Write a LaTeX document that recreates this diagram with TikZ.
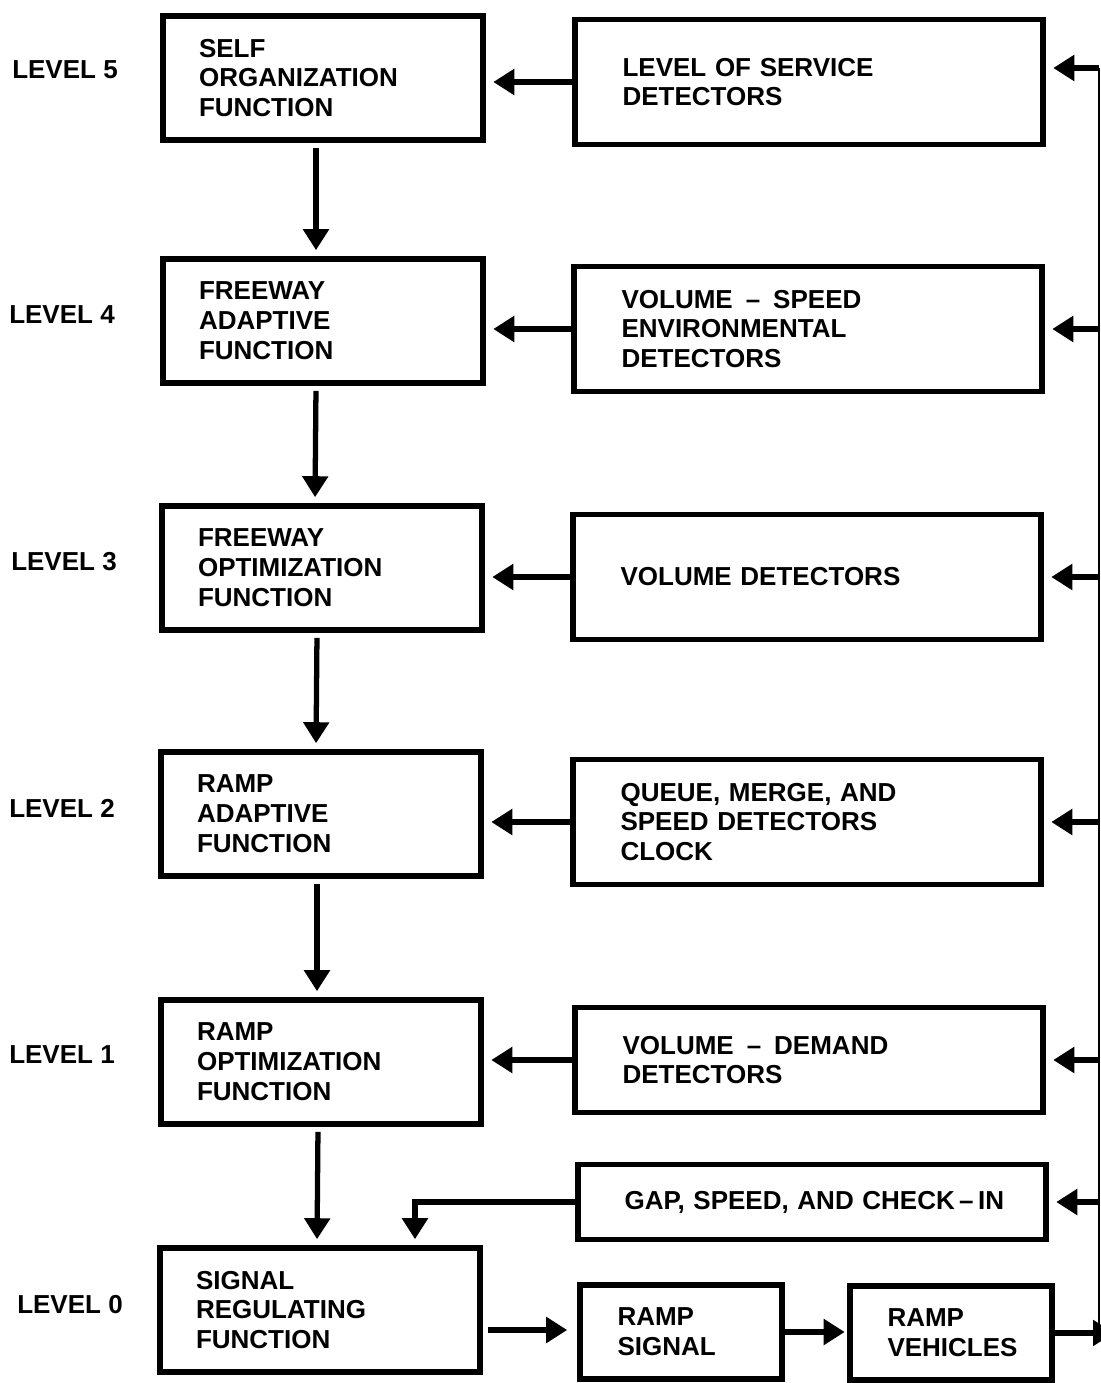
\documentclass[tikz,border=0pt]{standalone}
\usepackage{fontspec}
\setmainfont{Liberation Sans}
\usetikzlibrary{arrows.meta}

\begin{document}
\begin{tikzpicture}[x=0.02cm,y=-0.02cm,>={Triangle[length=0.42cm,width=0.5cm]},
  txt/.style={font=\bfseries\fontsize{14.8}{17}\selectfont},
  fnbox/.style={txt,draw,line width=3.2pt,align=left,minimum width=6.4cm,minimum height=2.48cm,inner xsep=0.72cm,text width=4.96cm},
  detbox/.style={txt,draw,line width=3.2pt,align=left,minimum width=9.36cm,minimum height=2.5cm,inner xsep=0.95cm,text width=7.46cm},
  outbox/.style={txt,draw,line width=3.2pt,align=left,minimum width=4.04cm,minimum height=1.88cm,inner xsep=0.75cm,text width=2.54cm},
  arr/.style={->,line width=3pt},
  fbline/.style={line width=1pt}]
  \useasboundingbox (0,0) rectangle (1101,1383);

  % Functions, one per level
  \node[fnbox] (self) at (323,78) {SELF\\ORGANIZATION\\FUNCTION};
  \node[fnbox] (fwa) at (323,321) {FREEWAY\\ADAPTIVE\\FUNCTION};
  \node[fnbox] (fwo) at (322,568) {FREEWAY\\OPTIMIZATION\\FUNCTION};
  \node[fnbox] (ra) at (321,814) {RAMP\\ADAPTIVE\\FUNCTION};
  \node[fnbox] (ro) at (321,1062) {RAMP\\OPTIMIZATION\\FUNCTION};
  \node[fnbox] (reg) at (320,1310) {SIGNAL\\REGULATING\\FUNCTION};

  % Level labels
  \node[txt] (lv5) at (65,70) {LEVEL 5};
  \node[txt] (lv4) at (62,315) {LEVEL 4};
  \node[txt] (lv3) at (64,562) {LEVEL 3};
  \node[txt] (lv2) at (62,808) {LEVEL 2};
  \node[txt] (lv1) at (62,1055) {LEVEL 1};
  \node[txt] (lv0) at (70,1305) {LEVEL 0};

  % Detectors
  \node[detbox] (los) at (809,82) {LEVEL OF SERVICE\\DETECTORS};
  \node[detbox] (vsd) at (808,329) {VOLUME \,--\, SPEED\\ENVIRONMENTAL\\DETECTORS};
  \node[detbox] (vol) at (807,577) {VOLUME DETECTORS};
  \node[detbox] (qmd) at (807,822) {QUEUE, MERGE, AND\\SPEED DETECTORS\\CLOCK};
  \node[detbox,minimum height=2.1cm] (vdd) at (809,1060) {VOLUME \,--\, DEMAND\\DETECTORS};
  \node[detbox,minimum height=1.5cm,inner xsep=0.9cm,text width=7.5cm] (gap) at (812,1202) {\mbox{GAP, SPEED, AND CHECK\,--\,IN}};

  % Ramp
  \node[outbox] (rsig) at (681,1332) {RAMP\\SIGNAL};
  \node[outbox] (rveh) at (951,1333) {RAMP\\VEHICLES};

  % Down the levels
  \draw[arr,shorten <=0.1cm,shorten >=0.12cm] ([xshift=-0.14cm]self.south) -- ([xshift=-0.14cm]fwa.north);
  \draw[arr,shorten <=0.1cm,shorten >=0.12cm] ([xshift=-0.14cm]fwa.south) -- ([xshift=-0.14cm]fwo.north);
  \draw[arr,shorten <=0.1cm,shorten >=0.12cm] ([xshift=-0.1cm]fwo.south) -- ([xshift=-0.1cm]ra.north);
  \draw[arr,shorten <=0.1cm,shorten >=0.12cm] ([xshift=-0.08cm]ra.south) -- ([xshift=-0.08cm]ro.north);
  \draw[arr,shorten <=0.1cm,shorten >=0.12cm] ([xshift=-0.06cm]ro.south) -- ([xshift=-0.06cm]reg.north);

  % Detectors into functions
  \draw[arr,shorten >=0.15cm] (los.west) -- (los.west -| self.east);
  \draw[arr,shorten >=0.15cm] (vsd.west) -- (vsd.west -| fwa.east);
  \draw[arr,shorten >=0.15cm] (vol.west) -- (vol.west -| fwo.east);
  \draw[arr,shorten >=0.15cm] (qmd.west) -- (qmd.west -| ra.east);
  \draw[arr,shorten >=0.15cm] (vdd.west) -- (vdd.west -| ro.east);
  \draw[arr,shorten >=0.12cm] (gap.west) -| ([xshift=1.9cm]reg.north);

  % Signal output
  \draw[arr,shorten <=0.1cm,shorten >=0.2cm] ([yshift=-0.4cm]reg.east) -- ([yshift=-0.4cm]reg.east -| rsig.west);
  \draw[arr,shorten >=0.05cm] (rsig.east) -- (rsig.east -| rveh.west);

  % Feedback from the vehicles
  \coordinate (fbtop) at (1099,68);
  \coordinate (fbbot) at (1099,1333);
  \draw[fbline] (fbtop) -- (fbbot);
  \draw[arr,shorten >=-0.3cm] (rveh.east) -- (fbbot);
  \draw[arr,shorten >=0.15cm] (fbtop) -- (fbtop -| los.east);
  \draw[arr,shorten >=0.15cm] (vsd.east -| fbtop) -- (vsd.east);
  \draw[arr,shorten >=0.15cm] (vol.east -| fbtop) -- (vol.east);
  \draw[arr,shorten >=0.15cm] (qmd.east -| fbtop) -- (qmd.east);
  \draw[arr,shorten >=0.15cm] (vdd.east -| fbtop) -- (vdd.east);
  \draw[arr,shorten >=0.15cm] (gap.east -| fbtop) -- (gap.east);
\end{tikzpicture}
\end{document}
